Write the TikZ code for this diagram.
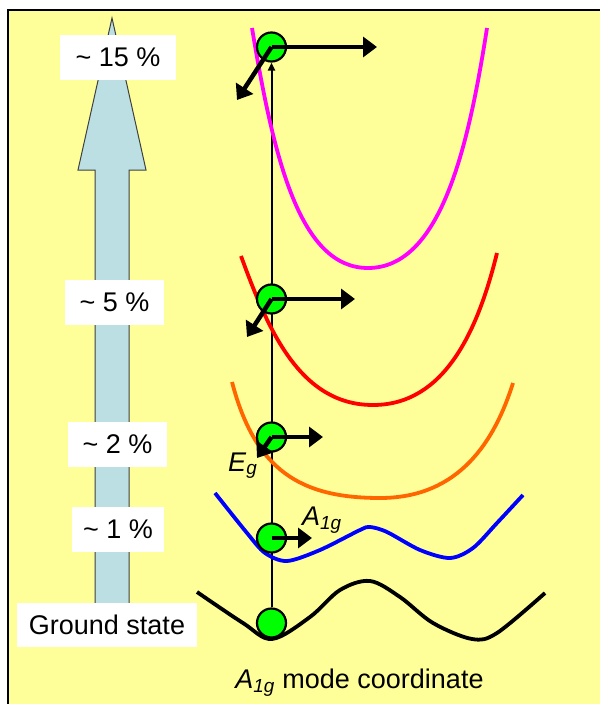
\documentclass[tikz,border=0pt]{standalone}
\usepackage{fontspec}
\setmainfont{Liberation Sans}
\usetikzlibrary{arrows.meta}
\pgfdeclarelayer{bg}
\pgfdeclarelayer{mid}
\pgfsetlayers{bg,mid,main}
\definecolor{paper}{HTML}{FFFF99}
\definecolor{shaft}{HTML}{BBDFE3}
\definecolor{ballgreen}{HTML}{00FF00}
\definecolor{orng}{HTML}{FF6600}
\definecolor{mgnt}{HTML}{FF00FF}
\definecolor{rd}{HTML}{FF0000}
\definecolor{bl}{HTML}{0000FF}
\begin{document}
\begin{tikzpicture}[x=1pt,y=-1pt, font=\fontsize{27}{32}\selectfont,
  ball/.style={circle, draw, fill=ballgreen, line width=2.2pt, minimum size=29pt, inner sep=0pt},
  pct/.style={fill=white, inner sep=0pt, minimum height=45pt},
  vib/.style={line width=4.5pt, -{Triangle[length=14pt,width=20pt]}},
  pes/.style={line width=3.8pt, line join=round, line cap=butt},
  lbl/.style={inner sep=0pt}]
\useasboundingbox (0,0) rectangle (600,704);

% balls
\node[ball] (b4) at (271.5,47) {};
\node[ball] (b3) at (271.5,299) {};
\node[ball] (b2) at (271.5,437) {};
\node[ball] (b1) at (271.5,538) {};
\node[ball] (b0) at (271.5,623) {};

% labels on the big arrow
\node[pct, minimum width=116pt] (l15) at (118,57.5) {\textasciitilde{} 15 \%};
\node[pct, minimum width=99pt] (l5) at (114.5,302.5) {\textasciitilde{} 5 \%};
\node[pct, minimum width=99pt] (l2) at (117.5,444.5) {\textasciitilde{} 2 \%};
\node[pct, minimum width=92pt] (l1) at (118,529.5) {\textasciitilde{} 1 \%};
\node[pct, minimum width=180pt, minimum height=44pt] (gs) at (107,625) {Ground state};

% mode labels
\node[lbl, anchor=base west] (eg) at (228,471) {\textit{E}\textsubscript{\textit{g}}};
\node[lbl, anchor=base west] (ag) at (302,525) {\textit{A}\textsubscript{\textit{1g}}};
\node[lbl, anchor=base] (xl) at (359.5,688) {\textit{A}\textsubscript{\textit{1g}} mode coordinate};

% displacement arrows
\coordinate (h4) at (377,47);
\coordinate (d4) at (237,100);
\coordinate (h3) at (355,299);
\coordinate (d3) at (247,337);
\coordinate (h2) at (323,437);
\coordinate (d2) at (257,458);
\coordinate (h1) at (312,538);
\draw[vib] (b4.center) -- (h4);
\draw[vib] (b4.center) -- (d4);
\draw[vib] (b3.center) -- (h3);
\draw[vib] (b3.center) -- (d3);
\draw[vib] (b2.center) -- (h2);
\draw[vib] (b2.center) -- (d2);
\draw[vib] (b1.center) -- (h1);

\begin{pgfonlayer}{mid}
\draw[line width=2pt, -{Triangle[length=8pt,width=7pt]}] (b0) -- (b4);
\draw[pes, mgnt] (252,28) .. controls (274,160) and (300,268) .. (368,268)
                 .. controls (440,268) and (468,150) .. (487,28);
\draw[pes, rd] (241,256) .. controls (268,330) and (300,405) .. (373,405)
               .. controls (445,405) and (478,330) .. (497,253);
\draw[pes, orng] (232,382) .. controls (255,470) and (300,498) .. (380,498)
                 .. controls (460,498) and (495,440) .. (513,383);
\draw[pes, bl] plot[smooth, tension=0.5] coordinates {(215,493) (247,533) (265,553) (287,561) (320,550) (360,530) (370,527) (387,532) (420,550) (450,558) (473,548) (497,523) (523,495)};
\draw[pes, black] plot[smooth, tension=0.55] coordinates {(197,592) (243,623) (272,639) (310,617) (340,590) (370,581) (400,597) (433,623) (472,639) (497,633) (545,593)};
\end{pgfonlayer}

\begin{pgfonlayer}{bg}
\fill[white] (0,0) rectangle (600,704);
\fill[paper] (8,10) rectangle (600,704);
\draw[line width=2.5pt] (8,704) -- (8,10) -- (600,10);
\draw[fill=shaft, draw=black!75, line width=1pt] (95,612) -- (95,170) -- (78,170) -- (112,18) -- (146,170) -- (129,170) -- (129,612) -- cycle;
\end{pgfonlayer}
\end{tikzpicture}
\end{document}
